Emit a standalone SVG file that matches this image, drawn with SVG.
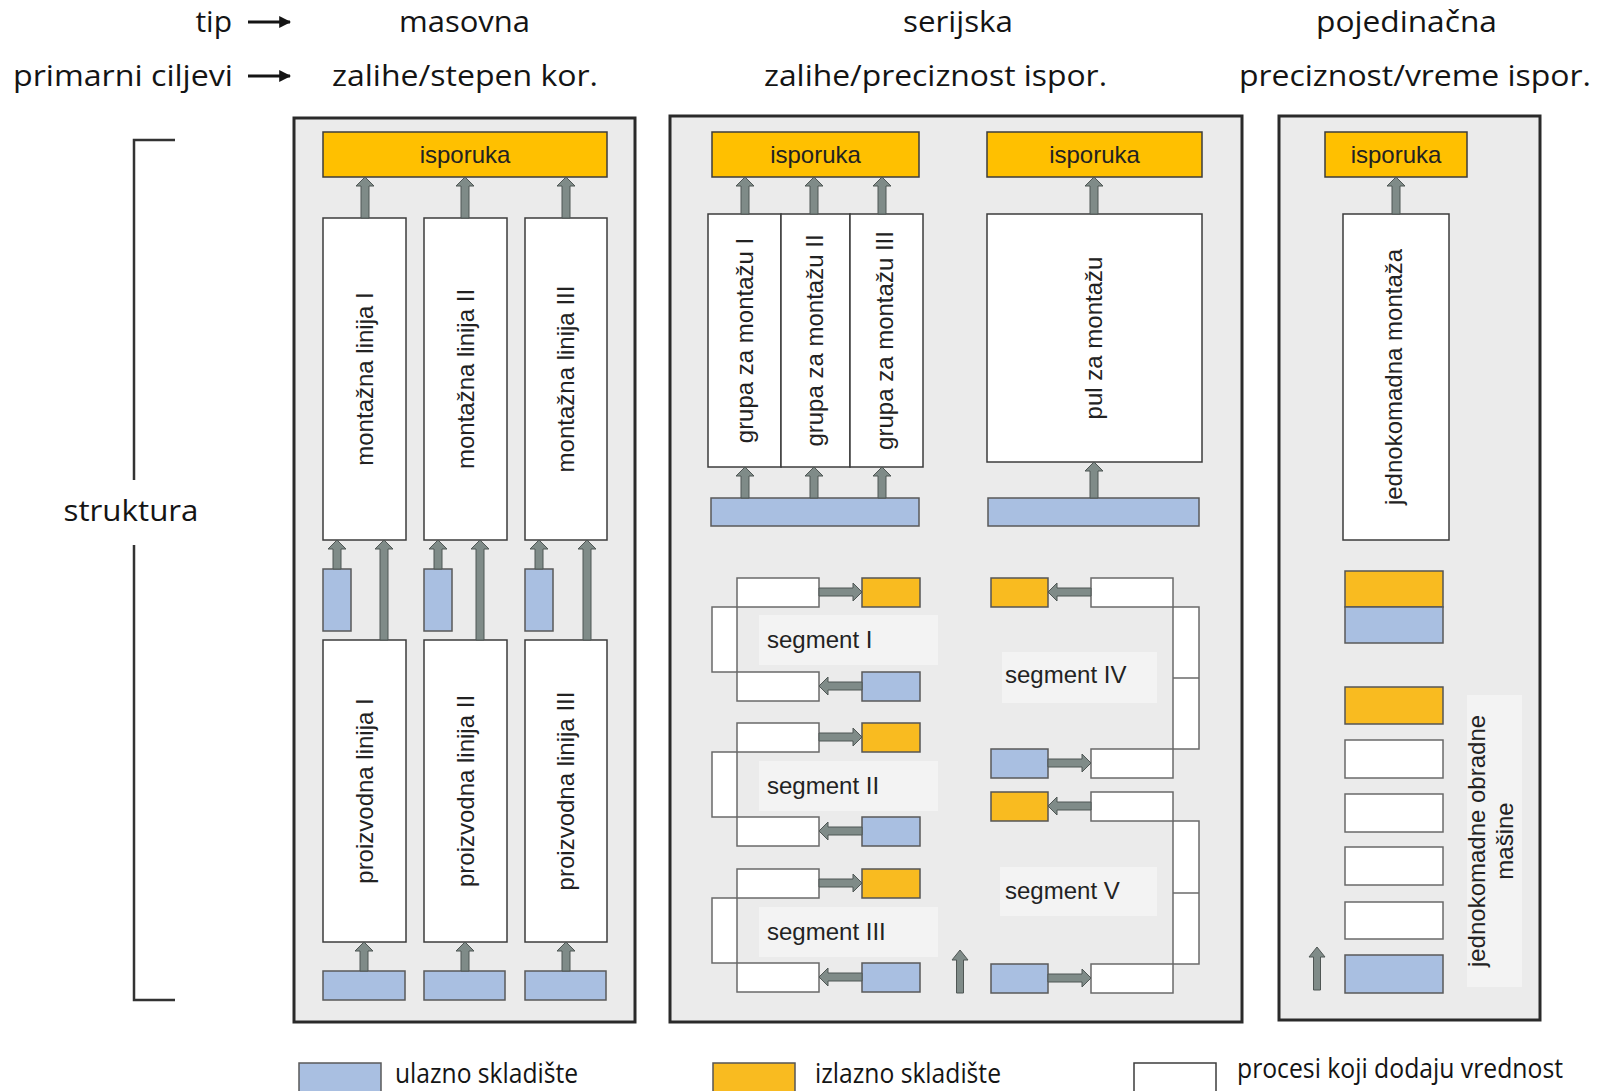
<svg xmlns="http://www.w3.org/2000/svg" width="1602" height="1091" viewBox="0 0 1602 1091">
<style>
.hdr{font-family:"Open Sans","Noto Sans","DejaVu Sans",sans-serif;font-size:30px;fill:#141414}
.leg{font-family:"Open Sans","Noto Sans","DejaVu Sans",sans-serif;font-size:27px;fill:#141414}
.lbl{font-family:"Liberation Sans",Arial,sans-serif;font-size:24px;fill:#222}
.panel{fill:#ebebeb;stroke:#2a2a2a;stroke-width:3}
.box{fill:#fff;stroke:#3c3c3c;stroke-width:1.5}
.wbox{fill:#fff;stroke:#6a6a6a;stroke-width:1.5}
.isp{fill:#FFC000;stroke:#3c3c3c;stroke-width:1.5}
.out{fill:#F9BB20;stroke:#555;stroke-width:1.5}
.inp{fill:#A9BFE1;stroke:#5a5a5a;stroke-width:1.5}
.lbg{fill:#f3f3f3}
.arr{fill:#7f8b88;stroke:#4f5654;stroke-width:1}
.brk{fill:none;stroke:#333;stroke-width:2.5}
</style>
<defs>
<marker id="hd" viewBox="0 0 10 10" refX="9" refY="5" markerWidth="4" markerHeight="4" orient="auto">
<path d="M0,0 L10,5 L0,10 Z" fill="#141414"/>
</marker>
</defs>

<!-- header -->
<g id="header">
<text class="hdr" x="232" y="32" text-anchor="end">tip</text>
<text class="hdr" x="233" y="86" text-anchor="end" textLength="220" lengthAdjust="spacingAndGlyphs">primarni ciljevi</text>
<line x1="248" y1="22" x2="290" y2="22" stroke="#141414" stroke-width="3" marker-end="url(#hd)"/>
<line x1="248" y1="76" x2="290" y2="76" stroke="#141414" stroke-width="3" marker-end="url(#hd)"/>
<text class="hdr" x="399" y="32" textLength="131" lengthAdjust="spacingAndGlyphs">masovna</text>
<text class="hdr" x="903" y="32" textLength="110" lengthAdjust="spacingAndGlyphs">serijska</text>
<text class="hdr" x="1316" y="32" textLength="181" lengthAdjust="spacingAndGlyphs">pojedinačna</text>
<text class="hdr" x="332" y="86" textLength="266" lengthAdjust="spacingAndGlyphs">zalihe/stepen kor.</text>
<text class="hdr" x="764" y="86" textLength="343" lengthAdjust="spacingAndGlyphs">zalihe/preciznost ispor.</text>
<text class="hdr" x="1239" y="86" textLength="352" lengthAdjust="spacingAndGlyphs">preciznost/vreme ispor.</text>
</g>

<!-- struktura bracket -->
<g id="struktura">
<path class="brk" d="M175,140 L134,140 L134,480 M134,545 L134,1000 L175,1000"/>
<text class="hdr" x="131" y="521" text-anchor="middle" textLength="135" lengthAdjust="spacingAndGlyphs">struktura</text>
</g>

<!-- panels -->
<g id="panel-masovna"><rect class="panel" x="294" y="118" width="341" height="904"/></g>
<g id="panel-serijska"><rect class="panel" x="670" y="116" width="572" height="906"/></g>
<g id="panel-pojedinacna"><rect class="panel" x="1279" y="116" width="261" height="904"/></g>

<!-- masovna nodes -->
<g id="isporuka-1"><rect class="isp" x="323" y="132" width="284" height="45"/><text class="lbl" x="465" y="163" text-anchor="middle">isporuka</text></g>
<g id="montazna-1"><rect class="box" x="323" y="218" width="83" height="322"/><text class="lbl" transform="translate(364.5,379) rotate(-90)" text-anchor="middle" dy="8">montažna linija I</text></g>
<g id="montazna-2"><rect class="box" x="424" y="218" width="83" height="322"/><text class="lbl" transform="translate(465.5,379) rotate(-90)" text-anchor="middle" dy="8">montažna linija II</text></g>
<g id="montazna-3"><rect class="box" x="525" y="218" width="82" height="322"/><text class="lbl" transform="translate(566,379) rotate(-90)" text-anchor="middle" dy="8">montažna linija III</text></g>
<g id="ulaz-m1"><rect class="inp" x="323" y="569" width="28" height="62"/></g>
<g id="ulaz-m2"><rect class="inp" x="424" y="569" width="28" height="62"/></g>
<g id="ulaz-m3"><rect class="inp" x="525" y="569" width="28" height="62"/></g>
<g id="proizvodna-1"><rect class="box" x="323" y="640" width="83" height="302"/><text class="lbl" transform="translate(364.5,791) rotate(-90)" text-anchor="middle" dy="8">proizvodna linija I</text></g>
<g id="proizvodna-2"><rect class="box" x="424" y="640" width="83" height="302"/><text class="lbl" transform="translate(465.5,791) rotate(-90)" text-anchor="middle" dy="8">proizvodna linija II</text></g>
<g id="proizvodna-3"><rect class="box" x="525" y="640" width="82" height="302"/><text class="lbl" transform="translate(566,791) rotate(-90)" text-anchor="middle" dy="8">proizvodna linija III</text></g>
<g id="ulaz-p1"><rect class="inp" x="323" y="971" width="82" height="29"/></g>
<g id="ulaz-p2"><rect class="inp" x="424" y="971" width="81" height="29"/></g>
<g id="ulaz-p3"><rect class="inp" x="525" y="971" width="81" height="29"/></g>

<!-- serijska nodes -->
<g id="isporuka-2a"><rect class="isp" x="712" y="132" width="207" height="45"/><text class="lbl" x="815.5" y="163" text-anchor="middle">isporuka</text></g>
<g id="isporuka-2b"><rect class="isp" x="987" y="132" width="215" height="45"/><text class="lbl" x="1094.5" y="163" text-anchor="middle">isporuka</text></g>
<g id="grupa-1"><rect class="box" x="708" y="214" width="73" height="253"/><text class="lbl" transform="translate(745,340.5) rotate(-90)" text-anchor="middle" dy="8">grupa za montažu I</text></g>
<g id="grupa-2"><rect class="box" x="781" y="214" width="69" height="253"/><text class="lbl" transform="translate(815,340.5) rotate(-90)" text-anchor="middle" dy="8">grupa za montažu II</text></g>
<g id="grupa-3"><rect class="box" x="850" y="214" width="73" height="253"/><text class="lbl" transform="translate(885,340.5) rotate(-90)" text-anchor="middle" dy="8">grupa za montažu III</text></g>
<g id="ulaz-grupa"><rect class="inp" x="711" y="498" width="208" height="28"/></g>
<g id="pul"><rect class="box" x="987" y="214" width="215" height="248"/><text class="lbl" transform="translate(1094,338) rotate(-90)" text-anchor="middle" dy="8">pul za montažu</text></g>
<g id="ulaz-pul"><rect class="inp" x="988" y="498" width="211" height="28"/></g>

<!-- segments left -->
<g id="segment-1">
<rect class="wbox" x="712" y="607" width="25" height="65"/>
<rect class="wbox" x="737" y="578" width="82" height="29"/>
<rect class="wbox" x="737" y="672" width="82" height="29"/>
<rect class="out" x="862" y="578" width="58" height="29"/>
<rect class="inp" x="862" y="672" width="58" height="29"/>
<rect class="lbg" x="759" y="615" width="179" height="50"/>
<text class="lbl" x="767" y="648">segment I</text>
</g>
<g id="segment-2">
<rect class="wbox" x="712" y="752" width="25" height="65"/>
<rect class="wbox" x="737" y="723" width="82" height="29"/>
<rect class="wbox" x="737" y="817" width="82" height="29"/>
<rect class="out" x="862" y="723" width="58" height="29"/>
<rect class="inp" x="862" y="817" width="58" height="29"/>
<rect class="lbg" x="759" y="761" width="179" height="50"/>
<text class="lbl" x="767" y="794">segment II</text>
</g>
<g id="segment-3">
<rect class="wbox" x="712" y="898" width="25" height="65"/>
<rect class="wbox" x="737" y="869" width="82" height="29"/>
<rect class="wbox" x="737" y="963" width="82" height="29"/>
<rect class="out" x="862" y="869" width="58" height="29"/>
<rect class="inp" x="862" y="963" width="58" height="29"/>
<rect class="lbg" x="759" y="907" width="179" height="50"/>
<text class="lbl" x="767" y="940">segment III</text>
</g>
<!-- segments right -->
<g id="segment-4">
<rect class="wbox" x="1173" y="607" width="26" height="142"/>
<line x1="1173" y1="678" x2="1199" y2="678" stroke="#6a6a6a" stroke-width="1.5"/>
<rect class="wbox" x="1091" y="578" width="82" height="29"/>
<rect class="wbox" x="1091" y="749" width="82" height="29"/>
<rect class="out" x="991" y="578" width="57" height="29"/>
<rect class="inp" x="991" y="749" width="57" height="29"/>
<rect class="lbg" x="1002" y="652" width="155" height="51"/>
<text class="lbl" x="1005" y="683">segment IV</text>
</g>
<g id="segment-5">
<rect class="wbox" x="1173" y="821" width="26" height="143"/>
<line x1="1173" y1="893" x2="1199" y2="893" stroke="#6a6a6a" stroke-width="1.5"/>
<rect class="wbox" x="1091" y="792" width="82" height="29"/>
<rect class="wbox" x="1091" y="964" width="82" height="29"/>
<rect class="out" x="991" y="792" width="57" height="29"/>
<rect class="inp" x="991" y="964" width="57" height="29"/>
<rect class="lbg" x="1000" y="867" width="157" height="49"/>
<text class="lbl" x="1005" y="899">segment V</text>
</g>

<!-- pojedinacna nodes -->
<g id="isporuka-3"><rect class="isp" x="1325" y="132" width="142" height="45"/><text class="lbl" x="1396" y="163" text-anchor="middle">isporuka</text></g>
<g id="jednokomadna"><rect class="box" x="1343" y="214" width="106" height="326"/><text class="lbl" transform="translate(1394,377) rotate(-90)" text-anchor="middle" dy="8">jednokomadna montaža</text></g>
<g id="skladiste-3"><rect class="out" x="1345" y="571" width="98" height="36"/><rect class="inp" x="1345" y="607" width="98" height="36"/></g>
<g id="masine">
<rect class="out" x="1345" y="687" width="98" height="37"/>
<rect class="wbox" x="1345" y="740" width="98" height="38"/>
<rect class="wbox" x="1345" y="794" width="98" height="38"/>
<rect class="wbox" x="1345" y="847" width="98" height="38"/>
<rect class="wbox" x="1345" y="902" width="98" height="37"/>
<rect class="inp" x="1345" y="955" width="98" height="38"/>
<rect class="lbg" x="1467" y="695" width="55" height="292"/>
<text class="lbl" transform="translate(1477,841) rotate(-90)" text-anchor="middle" dy="8">jednokomadne obradne</text>
<text class="lbl" transform="translate(1505,841) rotate(-90)" text-anchor="middle" dy="8">mašine</text>
</g>

<!-- connectors -->
<g id="connectors">
<path class="arr" d="M361,218 L361,186 L356,186 L365,177 L374,186 L369,186 L369,218 Z"/>
<path class="arr" d="M461,218 L461,186 L456,186 L465,177 L474,186 L469,186 L469,218 Z"/>
<path class="arr" d="M562,218 L562,186 L557,186 L566,177 L575,186 L570,186 L570,218 Z"/>
<path class="arr" d="M333,569 L333,549 L328,549 L337,540 L346,549 L341,549 L341,569 Z"/>
<path class="arr" d="M434,569 L434,549 L429,549 L438,540 L447,549 L442,549 L442,569 Z"/>
<path class="arr" d="M535,569 L535,549 L530,549 L539,540 L548,549 L543,549 L543,569 Z"/>
<path class="arr" d="M380,640 L380,549 L375,549 L384,540 L393,549 L388,549 L388,640 Z"/>
<path class="arr" d="M476,640 L476,549 L471,549 L480,540 L489,549 L484,549 L484,640 Z"/>
<path class="arr" d="M583,640 L583,549 L578,549 L587,540 L596,549 L591,549 L591,640 Z"/>
<path class="arr" d="M360,971 L360,951 L355,951 L364,942 L373,951 L368,951 L368,971 Z"/>
<path class="arr" d="M461,971 L461,951 L456,951 L465,942 L474,951 L469,951 L469,971 Z"/>
<path class="arr" d="M562,971 L562,951 L557,951 L566,942 L575,951 L570,951 L570,971 Z"/>

<path class="arr" d="M741,214 L741,186 L736,186 L745,177 L754,186 L749,186 L749,214 Z"/>
<path class="arr" d="M810,214 L810,186 L805,186 L814,177 L823,186 L818,186 L818,214 Z"/>
<path class="arr" d="M878,214 L878,186 L873,186 L882,177 L891,186 L886,186 L886,214 Z"/>
<path class="arr" d="M1090,214 L1090,186 L1085,186 L1094,177 L1103,186 L1098,186 L1098,214 Z"/>
<path class="arr" d="M741,498 L741,476 L736,476 L745,467 L754,476 L749,476 L749,498 Z"/>
<path class="arr" d="M810,498 L810,476 L805,476 L814,467 L823,476 L818,476 L818,498 Z"/>
<path class="arr" d="M878,498 L878,476 L873,476 L882,467 L891,476 L886,476 L886,498 Z"/>
<path class="arr" d="M1090,498 L1090,471 L1085,471 L1094,462 L1103,471 L1098,471 L1098,498 Z"/>

<path class="arr" d="M819,588 L853,588 L853,583 L862,592 L853,601 L853,596 L819,596 Z"/>
<path class="arr" d="M862,682 L828,682 L828,677 L819,686 L828,695 L828,690 L862,690 Z"/>
<path class="arr" d="M819,733 L853,733 L853,728 L862,737 L853,746 L853,741 L819,741 Z"/>
<path class="arr" d="M862,827 L828,827 L828,822 L819,831 L828,840 L828,835 L862,835 Z"/>
<path class="arr" d="M819,879 L853,879 L853,874 L862,883 L853,892 L853,887 L819,887 Z"/>
<path class="arr" d="M862,973 L828,973 L828,968 L819,977 L828,986 L828,981 L862,981 Z"/>

<path class="arr" d="M1091,588 L1057,588 L1057,583 L1048,592 L1057,601 L1057,596 L1091,596 Z"/>
<path class="arr" d="M1048,759 L1082,759 L1082,754 L1091,763 L1082,772 L1082,767 L1048,767 Z"/>
<path class="arr" d="M1091,802 L1057,802 L1057,797 L1048,806 L1057,815 L1057,810 L1091,810 Z"/>
<path class="arr" d="M1048,974 L1082,974 L1082,969 L1091,978 L1082,987 L1082,982 L1048,982 Z"/>

<path class="arr" d="M956.5,993 L956.5,960 L952,960 L960,950 L968,960 L963.5,960 L963.5,993 Z"/>

<path class="arr" d="M1392,214 L1392,186 L1387,186 L1396,177 L1405,186 L1400,186 L1400,214 Z"/>
<path class="arr" d="M1313.5,990 L1313.5,957 L1309,957 L1317,947 L1325,957 L1320.5,957 L1320.5,990 Z"/>
</g>

<!-- legend -->
<g id="legend">
<rect class="inp" x="299" y="1063" width="82" height="40"/>
<text class="leg" x="395" y="1083" textLength="183" lengthAdjust="spacingAndGlyphs">ulazno skladište</text>
<rect class="out" x="713" y="1063" width="82" height="40"/>
<text class="leg" x="815" y="1083" textLength="186" lengthAdjust="spacingAndGlyphs">izlazno skladište</text>
<rect class="box" x="1134" y="1063" width="82" height="40"/>
<text class="leg" x="1237" y="1078" textLength="326" lengthAdjust="spacingAndGlyphs">procesi koji dodaju vrednost</text>
</g>
</svg>
